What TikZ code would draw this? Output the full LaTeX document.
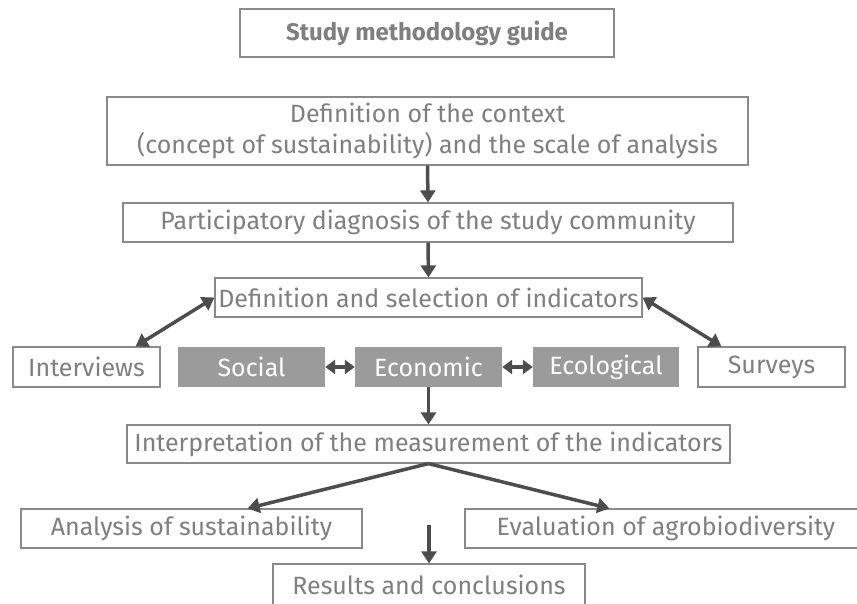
\documentclass[tikz,border=0pt]{standalone}
\usepackage{fontspec}
\setmainfont{Fira Sans}
\usetikzlibrary{arrows.meta,calc}
\definecolor{boxline}{HTML}{8A8A8A}
\definecolor{txt}{HTML}{7F7F7F}
\definecolor{fillg}{HTML}{9B9B9B}
\definecolor{arr}{HTML}{4D4D4D}
\begin{document}
\begin{tikzpicture}[x=1pt,y=-1pt,
  box/.style={draw=boxline,line width=1.2pt,fill=white,text=txt,inner sep=0pt,align=center,font=\fontsize{25}{31}\selectfont},
  gbox/.style={fill=fillg,text=white,inner sep=0pt,font=\fontsize{25}{31}\selectfont},
  conn/.style={draw=arr,line width=3.5pt,-{Triangle[length=12pt,width=15pt]}},
  dconn/.style={draw=arr,line width=3.5pt,{Triangle[length=12pt,width=15pt]}-{Triangle[length=12pt,width=15pt]}},
  sconn/.style={draw=arr,line width=3.5pt,{Triangle[length=10pt,width=14pt]}-{Triangle[length=10pt,width=14pt]}}]
\useasboundingbox (0,0) rectangle (857,603);
\node[box,minimum width=374pt,minimum height=48pt,font=\fontsize{24}{28}\selectfont\bfseries] (title) at (427,33) {Study methodology guide};
\node[box,minimum width=641pt,minimum height=68pt] (ctx) at (427.5,131) {Definition of the context\\(concept of sustainability) and the scale of analysis};
\node[box,minimum width=610pt,minimum height=39pt] (part) at (428,222.5) {Participatory diagnosis of the study community};
\node[box,minimum width=427pt,minimum height=39pt] (def) at (428.5,297.5) {Definition and selection of indicators};
\node[box,minimum width=147pt,minimum height=40pt] (intv) at (86.5,367) {Interviews};
\node[gbox,minimum width=147pt,minimum height=40pt] (soc) at (251.5,367) {Social};
\node[gbox,minimum width=147pt,minimum height=40pt] (eco) at (428.5,367) {Economic};
\node[gbox,minimum width=146pt,minimum height=40pt] (ecl) at (606,367) {Ecological};
\node[box,minimum width=147pt,minimum height=40pt] (surv) at (771.5,367) {Surveys};
\node[box,minimum width=603pt,minimum height=38pt] (interp) at (428.5,444) {Interpretation of the measurement of the indicators};
\node[box,minimum width=341pt,minimum height=39pt] (ana) at (191.5,528.5) {Analysis of sustainability};
\node[box,minimum width=402pt,minimum height=39pt] (eval) at (666,528.5) {Evaluation of agrobiodiversity};
\node[box,minimum width=312pt,minimum height=42pt] (res) at (429,585) {Results and conclusions};
\coordinate (rstart) at (429,525);
\draw[conn] (ctx.south) -- (part.north);
\draw[conn] (part.south) -- (def.north);
\draw[dconn] (def.west) -- ([xshift=-25pt]intv.north east);
\draw[dconn] (def.east) -- ([xshift=24pt]surv.north west);
\draw[sconn] (soc.east) -- (eco.west);
\draw[sconn] (eco.east) -- (ecl.west);
\draw[conn] (eco.south) -- (interp.north);
\draw[conn] (interp.south) -- ([xshift=-115pt]ana.north east);
\draw[conn] (interp.south) -- ([xshift=145pt]eval.north west);
\draw[conn] (rstart) -- (res.north);
\end{tikzpicture}
\end{document}
